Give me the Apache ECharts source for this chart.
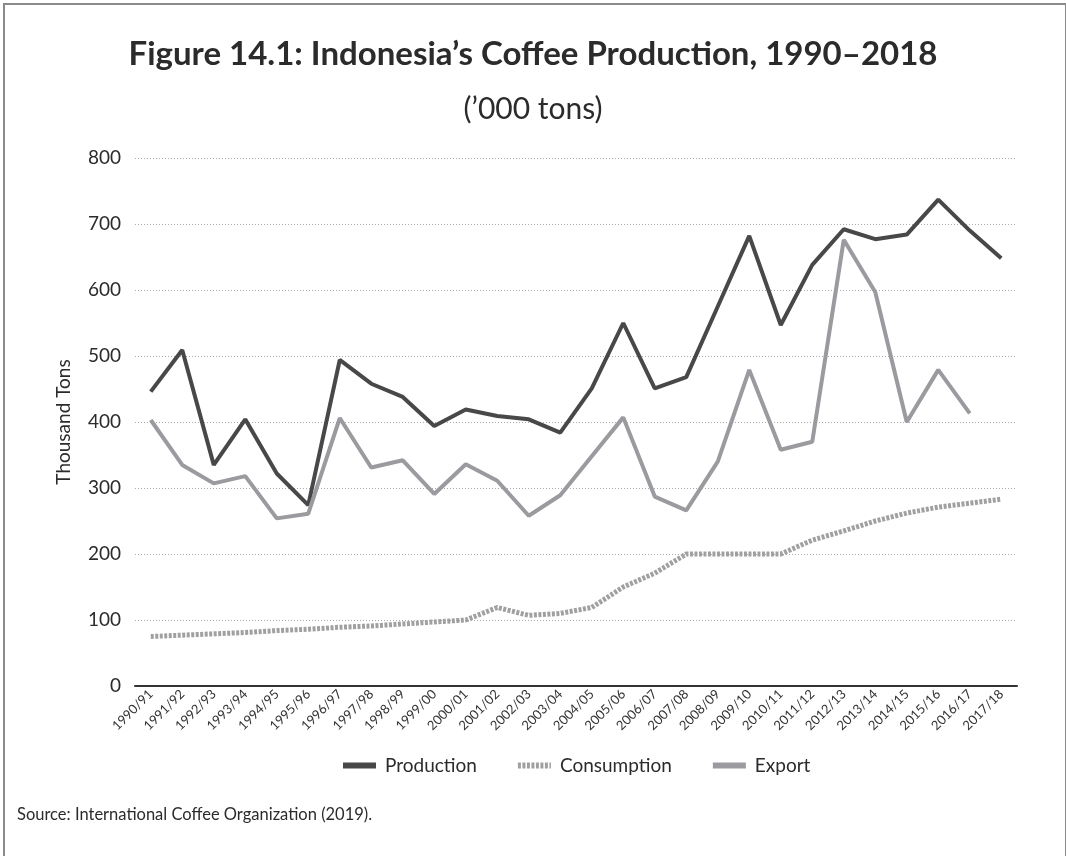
<!DOCTYPE html>
<html>
<head>
<meta charset="utf-8">
<script src="https://cdn.jsdelivr.net/npm/echarts@6/dist/echarts.min.js"></script>
<style>
  html, body { margin: 0; padding: 0; background: #fff; }
  #chart { width: 1066px; height: 856px; }
</style>
</head>
<body>
<div id="chart"></div>
<script>
const seasons = ['1990/91', '1991/92', '1992/93', '1993/94', '1994/95', '1995/96', '1996/97',
    '1997/98', '1998/99', '1999/00', '2000/01', '2001/02', '2002/03', '2003/04', '2004/05',
    '2005/06', '2006/07', '2007/08', '2008/09', '2009/10', '2010/11', '2011/12', '2012/13',
    '2013/14', '2014/15', '2015/16', '2016/17', '2017/18'];

const production = [446, 509, 335, 404, 322, 274, 494, 458, 438, 394, 419, 409, 404, 384, 451,
    550, 451, 468, 575, 682, 547, 638, 692, 677, 684, 737, 690, 648];

const consumption = [75, 77, 79, 81, 84, 86, 89, 91, 94, 97, 100, 119, 107, 110, 119,
    150, 171, 200, 200, 200, 200, 221, 235, 250, 262, 271, 277, 283];

const exportVals = [403, 335, 307, 318, 254, 261, 406, 331, 342, 291, 336, 311, 258, 289, 348,
    407, 287, 266, 340, 479, 358, 370, 676, 597, 400, 479, 413, null];

const yTicks = { min: 0, max: 800, interval: 100 };

const fontFamily = 'Lato, "Noto Sans", sans-serif';

const chart = echarts.init(document.getElementById('chart'));
chart.setOption({
    backgroundColor: '#fff',
    textStyle: { fontFamily: fontFamily },
    title: [{
        text: 'Figure 14.1: Indonesia\u2019s Coffee Production, 1990\u20132018',
        left: 'center',
        top: 33,
        textStyle: { fontSize: 33, fontWeight: 'bold', color: '#2b2b2b', fontFamily: fontFamily }
    }, {
        text: '(\u2019000 tons)',
        left: 'center',
        top: 89,
        textStyle: { fontSize: 30, fontWeight: 'normal', color: '#2b2b2b', fontFamily: fontFamily }
    }],
    grid: {
        left: 135,
        right: 49,
        top: 158,
        bottom: 170
    },
    legend: {
        top: 751,
        left: 335,
        itemGap: 38,
        itemWidth: 33,
        itemHeight: 14,
        itemStyle: { opacity: 0 },
        lineStyle: { width: 6 },
        textStyle: { fontSize: 19, color: '#2b2b2b', padding: [0, 0, 0, 4] },
        data: ['Production', 'Consumption', 'Export']
    },
    xAxis: {
        type: 'category',
        data: seasons,
        boundaryGap: true,
        axisLine: { lineStyle: { color: '#333', width: 2 } },
        axisTick: { show: false },
        axisLabel: {
            rotate: 45,
            interval: 0,
            fontSize: 13,
            color: '#333',
            margin: 6
        }
    },
    yAxis: {
        type: 'value',
        min: yTicks.min,
        max: yTicks.max,
        interval: yTicks.interval,
        name: 'Thousand Tons',
        nameLocation: 'middle',
        nameGap: 62,
        nameTextStyle: { fontSize: 19, color: '#2b2b2b' },
        axisLine: { show: false },
        axisTick: { show: false },
        axisLabel: { fontSize: 19, color: '#2b2b2b', margin: 14 },
        splitLine: { lineStyle: { color: '#aaa', type: [1, 2], width: 1 } }
    },
    series: [{
        name: 'Production',
        type: 'line',
        data: production,
        symbol: 'none',
        color: '#484848',
        lineStyle: { width: 4, color: '#484848' }
    }, {
        name: 'Consumption',
        type: 'line',
        data: consumption,
        symbol: 'none',
        color: '#a0a0a2',
        lineStyle: { width: 5, color: '#a0a0a2', type: [3, 1.5] }
    }, {
        name: 'Export',
        type: 'line',
        data: exportVals,
        symbol: 'none',
        color: '#9b9b9f',
        lineStyle: { width: 4, color: '#9b9b9f' }
    }],
    graphic: [{
        type: 'rect',
        shape: { x: 4, y: 4, width: 1062, height: 860 },
        style: { fill: 'none', stroke: '#8a8a8a', lineWidth: 2 },
        silent: true
    }, {
        type: 'text',
        left: 17,
        top: 806,
        style: {
            text: 'Source: International Coffee Organization (2019).',
            fontSize: 16.5,
            fill: '#2b2b2b',
            fontFamily: fontFamily
        }
    }]
});
</script>
</body>
</html>
